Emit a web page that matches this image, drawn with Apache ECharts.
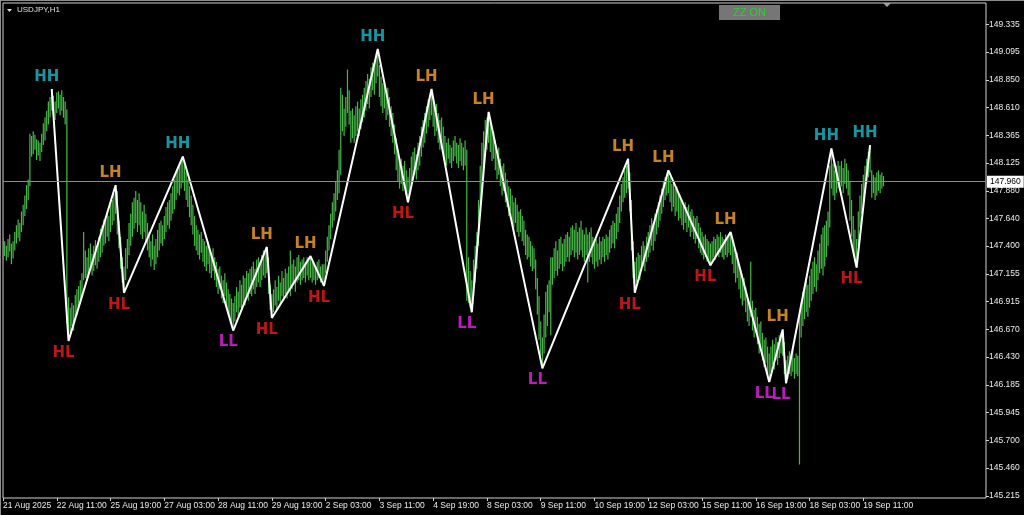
<!DOCTYPE html>
<html>
<head>
<meta charset="utf-8">
<script src="https://cdn.jsdelivr.net/npm/echarts@6/dist/echarts.min.js"></script>
<style>
html,body{margin:0;padding:0;background:#000;}
#chart{width:1024px;height:515px;}
</style>
</head>
<body>
<div id="chart"></div>
<script>
// ---- data ----
const symbolTitle = 'USDJPY,H1';
const firstBarUTC = Date.UTC(2025, 7, 21, 3); // 21 Aug 2025 03:00
const totalSlots = 586; // bars + empty chart-shift space
const xTickEvery = 32;
const xTickLabels = ['21 Aug 2025','22 Aug 11:00','25 Aug 19:00','27 Aug 03:00','28 Aug 11:00','29 Aug 19:00','2 Sep 03:00','3 Sep 11:00','4 Sep 19:00','8 Sep 03:00','9 Sep 11:00','10 Sep 19:00','12 Sep 03:00','15 Sep 11:00','16 Sep 19:00','18 Sep 03:00','19 Sep 11:00'];
const yTickLabels = ['149.335','149.095','148.850','148.610','148.365','148.125','147.880','147.640','147.400','147.155','146.915','146.670','146.430','146.185','145.945','145.700','145.460','145.215'];
const yMin = 145.1976;
const yMax = 149.5211;
const bidPrice = 147.960;

// hourly bars: [low, high]
const hourlyRange = [
[147.28,147.47],[147.31,147.44],[147.27,147.40],[147.30,147.46],[147.35,147.50],[147.24,147.42],[147.29,147.44],[147.36,147.52],[147.42,147.58],[147.47,147.63],
[147.44,147.60],[147.52,147.70],[147.58,147.76],[147.66,147.84],[147.72,147.93],[147.80,147.98],[147.92,148.38],[148.18,148.36],[148.20,148.40],[148.24,148.37],
[148.15,148.33],[148.19,148.32],[148.14,148.30],[148.22,148.38],[148.28,148.47],[148.32,148.52],[148.40,148.58],[148.46,148.66],[148.52,148.70],[148.58,148.77],
[148.55,148.71],[148.50,148.66],[148.56,148.74],[148.60,148.75],[148.54,148.72],[148.58,148.76],[148.52,148.70],[148.46,148.66],[146.72,148.59],[146.57,146.95],
[146.64,146.86],[146.70,146.90],[146.66,146.88],[146.76,146.97],[146.80,147.02],[146.86,147.05],[146.92,147.10],[146.95,147.16],[147.10,147.52],[147.12,147.36],
[147.10,147.30],[147.16,147.38],[147.20,147.42],[147.14,147.33],[147.18,147.40],[147.23,147.45],[147.20,147.38],[147.26,147.48],[147.30,147.55],[147.34,147.58],
[147.40,147.63],[147.42,147.66],[147.48,147.70],[147.44,147.66],[147.52,147.76],[147.58,147.80],[147.62,147.86],[147.68,147.93],[147.50,147.88],[147.38,147.62],
[147.20,147.48],[147.08,147.30],[146.99,147.22],[147.10,147.38],[147.20,147.46],[147.32,147.60],[147.40,147.68],[147.48,147.78],[147.55,147.82],[147.60,147.88],
[147.52,147.80],[147.58,147.86],[147.50,147.78],[147.46,147.70],[147.52,147.76],[147.44,147.68],[147.36,147.60],[147.30,147.52],[147.22,147.44],[147.28,147.50],
[147.19,147.40],[147.24,147.46],[147.30,147.54],[147.36,147.60],[147.42,147.62],[147.40,147.58],[147.46,147.66],[147.52,147.74],[147.58,147.78],[147.55,147.80],
[147.62,147.86],[147.68,147.92],[147.72,147.98],[147.80,148.04],[147.86,148.08],[147.84,148.10],[147.90,148.14],[147.95,148.18],[147.88,148.10],[147.80,148.04],
[147.74,147.98],[147.65,147.92],[147.58,147.84],[147.50,147.76],[147.40,147.66],[147.36,147.58],[147.32,147.54],[147.28,147.50],[147.34,147.52],[147.26,147.46],
[147.22,147.44],[147.18,147.40],[147.24,147.44],[147.16,147.36],[147.12,147.34],[147.18,147.38],[147.10,147.30],[147.04,147.26],[146.98,147.20],[147.02,147.22],
[146.94,147.14],[146.90,147.10],[146.96,147.16],[146.86,147.08],[146.80,147.02],[146.76,146.98],[146.72,146.94],[146.66,146.90],[146.74,146.96],[146.82,147.04],
[146.78,147.00],[146.86,147.10],[146.84,147.06],[146.90,147.14],[146.88,147.12],[146.94,147.18],[146.92,147.16],[146.98,147.20],[146.96,147.22],[147.02,147.26],
[146.98,147.20],[147.04,147.28],[147.08,147.30],[147.04,147.26],[147.10,147.32],[147.14,147.36],[147.12,147.34],[147.16,147.39],[146.98,147.30],[146.84,147.06],
[146.77,146.98],[146.82,147.02],[146.88,147.10],[146.84,147.04],[146.92,147.14],[146.88,147.08],[146.96,147.18],[146.92,147.12],[146.98,147.20],[146.94,147.16],
[147.00,147.22],[146.96,147.36],[147.02,147.24],[147.06,147.28],[147.00,147.22],[147.08,147.30],[147.10,147.32],[147.06,147.26],[147.10,147.28],[147.12,147.30],
[147.08,147.26],[147.14,147.30],[147.10,147.28],[147.12,147.31],[147.08,147.26],[147.10,147.24],[147.06,147.22],[147.10,147.26],[147.12,147.28],[147.08,147.22],
[147.10,147.24],[147.05,147.24],[147.16,147.36],[147.26,147.48],[147.36,147.58],[147.46,147.68],[147.56,147.78],[147.62,147.86],[147.70,147.96],[147.80,148.06],
[147.86,148.24],[148.02,148.78],[148.40,148.72],[148.36,148.60],[148.44,148.70],[148.56,148.94],[148.46,148.76],[148.30,148.58],[148.34,148.60],[148.30,148.54],
[148.36,148.62],[148.40,148.66],[148.36,148.60],[148.42,148.68],[148.48,148.72],[148.52,148.78],[148.58,148.84],[148.64,148.90],[148.60,148.86],[148.70,148.96],
[148.76,149.00],[148.72,148.98],[148.82,149.06],[148.88,149.12],[148.70,148.98],[148.62,148.88],[148.56,148.82],[148.60,148.84],[148.50,148.76],[148.54,148.78],
[148.44,148.70],[148.36,148.62],[148.30,148.56],[148.20,148.46],[148.06,148.34],[147.96,148.20],[147.90,148.12],[147.94,148.16],[147.88,148.10],[147.92,148.14],
[147.84,148.06],[147.78,148.00],[147.86,148.08],[147.94,148.18],[147.98,148.22],[148.02,148.26],[147.98,148.20],[148.06,148.30],[148.10,148.36],[148.18,148.44],
[148.26,148.50],[148.30,148.56],[148.38,148.62],[148.44,148.68],[148.50,148.72],[148.54,148.77],[148.44,148.70],[148.36,148.62],[148.40,148.64],[148.30,148.56],
[148.24,148.50],[148.28,148.52],[148.20,148.44],[148.14,148.36],[148.10,148.30],[148.16,148.34],[148.12,148.28],[148.08,148.26],[148.14,148.32],[148.18,148.36],
[148.12,148.30],[148.08,148.28],[148.14,148.34],[148.10,148.30],[148.06,148.26],[148.10,148.32],[146.92,148.24],[146.90,147.30],[146.86,147.18],[146.82,147.10],
[146.96,147.28],[147.08,147.40],[147.20,147.52],[147.40,147.80],[147.70,148.10],[147.90,148.30],[148.06,148.40],[148.20,148.50],[148.24,148.52],[148.30,148.57],
[148.22,148.50],[148.14,148.42],[148.16,148.40],[148.06,148.32],[147.98,148.24],[148.02,148.26],[147.92,148.16],[147.84,148.10],[147.88,148.12],[147.78,148.04],
[147.74,147.98],[147.66,147.92],[147.70,147.90],[147.60,147.84],[147.56,147.78],[147.60,147.82],[147.52,147.76],[147.48,147.70],[147.52,147.72],[147.44,147.66],
[147.40,147.62],[147.32,147.54],[147.28,147.50],[147.30,147.48],[147.22,147.44],[147.18,147.40],[147.20,147.38],[147.02,147.28],[146.80,147.12],[146.58,146.96],
[146.44,146.74],[146.33,146.60],[146.46,146.80],[146.60,147.00],[146.70,147.06],[146.82,147.10],[146.62,147.30],[147.06,147.30],[147.12,147.38],[147.18,147.44],
[147.14,147.36],[147.20,147.46],[147.24,147.48],[147.18,147.42],[147.22,147.46],[147.26,147.50],[147.30,147.52],[147.26,147.48],[147.32,147.56],[147.36,147.58],
[147.30,147.54],[147.34,147.60],[147.28,147.52],[147.32,147.56],[147.36,147.62],[147.30,147.54],[147.26,147.50],[147.32,147.56],[147.08,147.50],[147.26,147.52],
[147.30,147.56],[147.24,147.48],[147.20,147.44],[147.26,147.46],[147.22,147.42],[147.28,147.48],[147.24,147.44],[147.30,147.48],[147.26,147.46],[147.32,147.50],
[147.28,147.48],[147.34,147.54],[147.38,147.58],[147.42,147.62],[147.38,147.60],[147.46,147.68],[147.52,147.74],[147.60,147.84],[147.70,147.94],[147.78,148.00],
[147.82,148.06],[147.86,148.10],[147.90,148.16],[147.70,148.04],[147.36,147.80],[147.12,147.44],[146.99,147.26],[147.08,147.30],[147.12,147.34],[147.10,147.32],
[147.18,147.40],[147.22,147.44],[147.18,147.40],[147.26,147.48],[147.30,147.52],[147.34,147.58],[147.40,147.64],[147.36,147.60],[147.44,147.68],[147.50,147.72],
[147.56,147.78],[147.62,147.84],[147.68,147.90],[147.74,147.96],[147.80,148.00],[147.84,148.02],[147.86,148.06],[147.78,148.00],[147.70,147.94],[147.74,147.96],
[147.66,147.90],[147.70,147.92],[147.62,147.86],[147.64,147.84],[147.58,147.80],[147.54,147.76],[147.60,147.78],[147.52,147.74],[147.56,147.76],[147.48,147.70],
[147.52,147.72],[147.46,147.66],[147.42,147.64],[147.46,147.66],[147.38,147.60],[147.34,147.56],[147.32,147.52],[147.28,147.48],[147.30,147.50],[147.26,147.46],
[147.28,147.44],[147.23,147.42],[147.26,147.44],[147.30,147.48],[147.28,147.46],[147.32,147.50],[147.30,147.48],[147.34,147.52],[147.30,147.48],[147.28,147.46],
[147.32,147.50],[147.30,147.48],[147.34,147.50],[147.32,147.52],[147.24,147.46],[147.16,147.38],[147.08,147.32],[147.12,147.34],[147.02,147.24],[146.94,147.18],
[146.88,147.10],[146.92,147.12],[146.82,147.04],[146.74,146.98],[146.70,146.92],[146.78,147.26],[146.66,146.92],[146.60,146.84],[146.64,146.86],[146.54,146.78],
[146.46,146.72],[146.50,146.74],[146.40,146.64],[146.34,146.58],[146.38,146.60],[146.28,146.52],[146.21,146.46],[146.30,146.52],[146.36,146.58],[146.32,146.54],
[146.40,146.60],[146.36,146.56],[146.42,146.62],[146.46,146.64],[146.44,146.67],[146.28,146.56],[146.20,146.40],[146.24,146.44],[146.28,146.48],[146.26,146.46],
[146.30,146.50],[146.24,146.42],[146.28,146.46],[146.26,146.44],[145.49,146.80],[146.60,146.90],[146.70,147.00],[146.76,147.04],[146.82,147.10],[146.78,147.06],
[146.86,147.14],[146.92,147.20],[146.98,147.26],[147.04,147.30],[147.00,147.24],[147.10,147.36],[147.16,147.42],[147.20,147.50],[147.14,147.56],[147.22,147.58],
[147.30,147.62],[147.40,147.70],[147.56,148.10],[147.90,148.25],[147.84,148.12],[147.80,148.06],[147.86,148.10],[147.90,148.14],[147.88,148.10],[147.92,148.14],
[147.86,148.08],[147.94,148.16],[147.90,148.12],[147.84,148.06],[147.62,147.96],[147.48,147.80],[147.36,147.66],[147.26,147.54],[147.21,147.46],[147.40,147.70],
[147.56,147.84],[147.68,147.94],[147.78,148.02],[147.86,148.10],[147.94,148.16],[148.00,148.22],[148.04,148.28],[147.82,148.06],[147.86,148.02],[147.80,148.00],
[147.84,148.04],[147.88,148.06],[147.86,148.02],[147.90,148.04],[147.92,148.01]
];

// ZigZag pivots
const zzBar   = [29,39,67,72,107,137,157,160,183,191,223,241,255,279,289,321,372,376,396,421,433,456,464,466,493,508,516];
const zzPrice = [148.77,146.57,147.93,146.99,148.18,146.66,147.39,146.77,147.31,147.05,149.12,147.78,148.77,146.82,148.57,146.33,148.16,146.99,148.06,147.23,147.52,146.21,146.67,146.20,148.25,147.21,148.28];
const zzLabel = ['HH','HL','LH','HL','HH','LL','LH','HL','LH','HL','HH','HL','LH','LL','LH','LL','LH','HL','LH','HL','LH','LL','LH','LL','HH','HL','HH'];

// ---- styles ----
const labelColors = {HH:'#1cbccc', LH:'#f7a22e', HL:'#ee1c1c', LL:'#e624e6'};
const barColor = '#46b846';
const textFont = 'Liberation Sans';

// categories: hourly trading bars (Mon-Fri)
const MON = ['Jan','Feb','Mar','Apr','May','Jun','Jul','Aug','Sep','Oct','Nov','Dec'];
const categories = [];
let t = firstBarUTC;
while (categories.length < totalSlots) {
  const d = new Date(t);
  const wd = d.getUTCDay();
  if (wd !== 0 && wd !== 6) {
    categories.push(d.getUTCDate() + ' ' + MON[d.getUTCMonth()] + ' ' + String(d.getUTCHours()).padStart(2,'0') + ':00');
  }
  t += 3600000;
}

const barData = hourlyRange.map((r, i) => [i, r[0], r[1]]);
const zzLine = zzBar.map((b, k) => [b, zzPrice[k]]);
const zzLabelData = zzBar.map((b, k) => {
  const lab = zzLabel[k];
  const isHigh = lab[1] === 'H';
  return {
    value: [b, zzPrice[k]],
    label: { formatter: lab, position: isHigh ? 'top' : 'bottom', color: labelColors[lab] }
  };
});

const showTick = (idx) => idx % xTickEvery === 0 && idx / xTickEvery < xTickLabels.length;

const chart = echarts.init(document.getElementById('chart'), null, {renderer: 'canvas'});
chart.setOption({
  backgroundColor: '#000000',
  animation: false,
  grid: { left: 3, right: 38, top: 3, bottom: 17, show: true, borderColor: '#d0d0d0', borderWidth: 1, backgroundColor: '#000' },
  xAxis: {
    type: 'category',
    data: categories,
    boundaryGap: false,
    axisLine: { show: false },
    axisTick: { show: true, interval: showTick, length: 3, lineStyle: { color: '#d0d0d0' } },
    axisLabel: {
      interval: showTick,
      formatter: (v, idx) => xTickLabels[idx / xTickEvery] || '',
      align: 'left',
      margin: 3,
      color: '#ececec',
      fontSize: 8.5,
      fontFamily: textFont
    },
    splitLine: { show: false }
  },
  yAxis: {
    type: 'value',
    position: 'right',
    min: yMin,
    max: yMax,
    scale: true,
    axisLine: { show: false },
    axisTick: { show: true, length: 3, inside: false, customValues: yTickLabels.map(Number), lineStyle: { color: '#d0d0d0' } },
    axisLabel: {
      customValues: yTickLabels.map(Number),
      formatter: (v) => Number(v).toFixed(3),
      margin: 3,
      color: '#ececec',
      fontSize: 8.5,
      fontFamily: textFont
    },
    splitLine: { show: false }
  },
  series: [
    {
      name: 'bars',
      type: 'custom',
      data: barData,
      encode: { x: 0, y: [1, 2] },
      clip: true,
      silent: true,
      z: 2,
      renderItem: function (params, api) {
        const x = api.value(0);
        const lo = api.coord([x, api.value(1)]);
        const hi = api.coord([x, api.value(2)]);
        return {
          type: 'line',
          shape: { x1: lo[0], y1: lo[1], x2: hi[0], y2: hi[1] },
          style: { stroke: barColor, lineWidth: 1.2 }
        };
      }
    },
    {
      name: 'zigzag',
      type: 'line',
      data: zzLine,
      showSymbol: false,
      symbol: 'none',
      silent: true,
      z: 4,
      lineStyle: { color: '#ffffff', width: 2 },
      markLine: {
        silent: true,
        symbol: ['none', 'none'],
        lineStyle: { color: '#8a8a8a', width: 1, type: 'solid' },
        label: {
          show: true,
          position: 'end',
          formatter: bidPrice.toFixed(3),
          backgroundColor: '#ffffff',
          color: '#000000',
          padding: [2, 3, 1, 3],
          fontSize: 8.5,
          fontFamily: textFont,
          distance: 1
        },
        data: [{ yAxis: bidPrice }]
      }
    },
    {
      name: 'zzLabels',
      type: 'scatter',
      data: zzLabelData,
      symbolSize: 1,
      silent: true,
      z: 5,
      itemStyle: { color: 'rgba(0,0,0,0)' },
      label: {
        show: true,
        fontSize: 15,
        fontWeight: 'bold',
        fontFamily: 'DejaVu Sans',
        distance: 4,
        offset: [-5, 0]
      }
    }
  ],
  graphic: [
    { type: 'line', shape: { x1: 0, y1: 0.5, x2: 1024, y2: 0.5 }, style: { stroke: '#8c8c8c', lineWidth: 1 }, silent: true },
    { type: 'line', shape: { x1: 0.5, y1: 0, x2: 0.5, y2: 515 }, style: { stroke: '#8c8c8c', lineWidth: 1 }, silent: true },
    { type: 'polygon', shape: { points: [[7, 9], [12, 9], [9.5, 12]] }, style: { fill: '#e0e0e0' }, silent: true },
    { type: 'text', left: 17, top: 6, style: { text: symbolTitle, fill: '#e0e0e0', font: '8px "Liberation Sans"' }, silent: true },
    { type: 'rect', shape: { x: 719, y: 5, width: 61, height: 15 }, style: { fill: '#767676' }, silent: true },
    { type: 'text', x: 749.5, y: 12.5, style: { text: 'ZZ ON', fill: '#33cc33', font: '11px "Liberation Sans"', align: 'center', verticalAlign: 'middle' }, silent: true },
    { type: 'polygon', shape: { points: [[883, 3], [891, 3], [887, 7]] }, style: { fill: '#a0a0a0' }, silent: true }
  ]
});
</script>
</body>
</html>
